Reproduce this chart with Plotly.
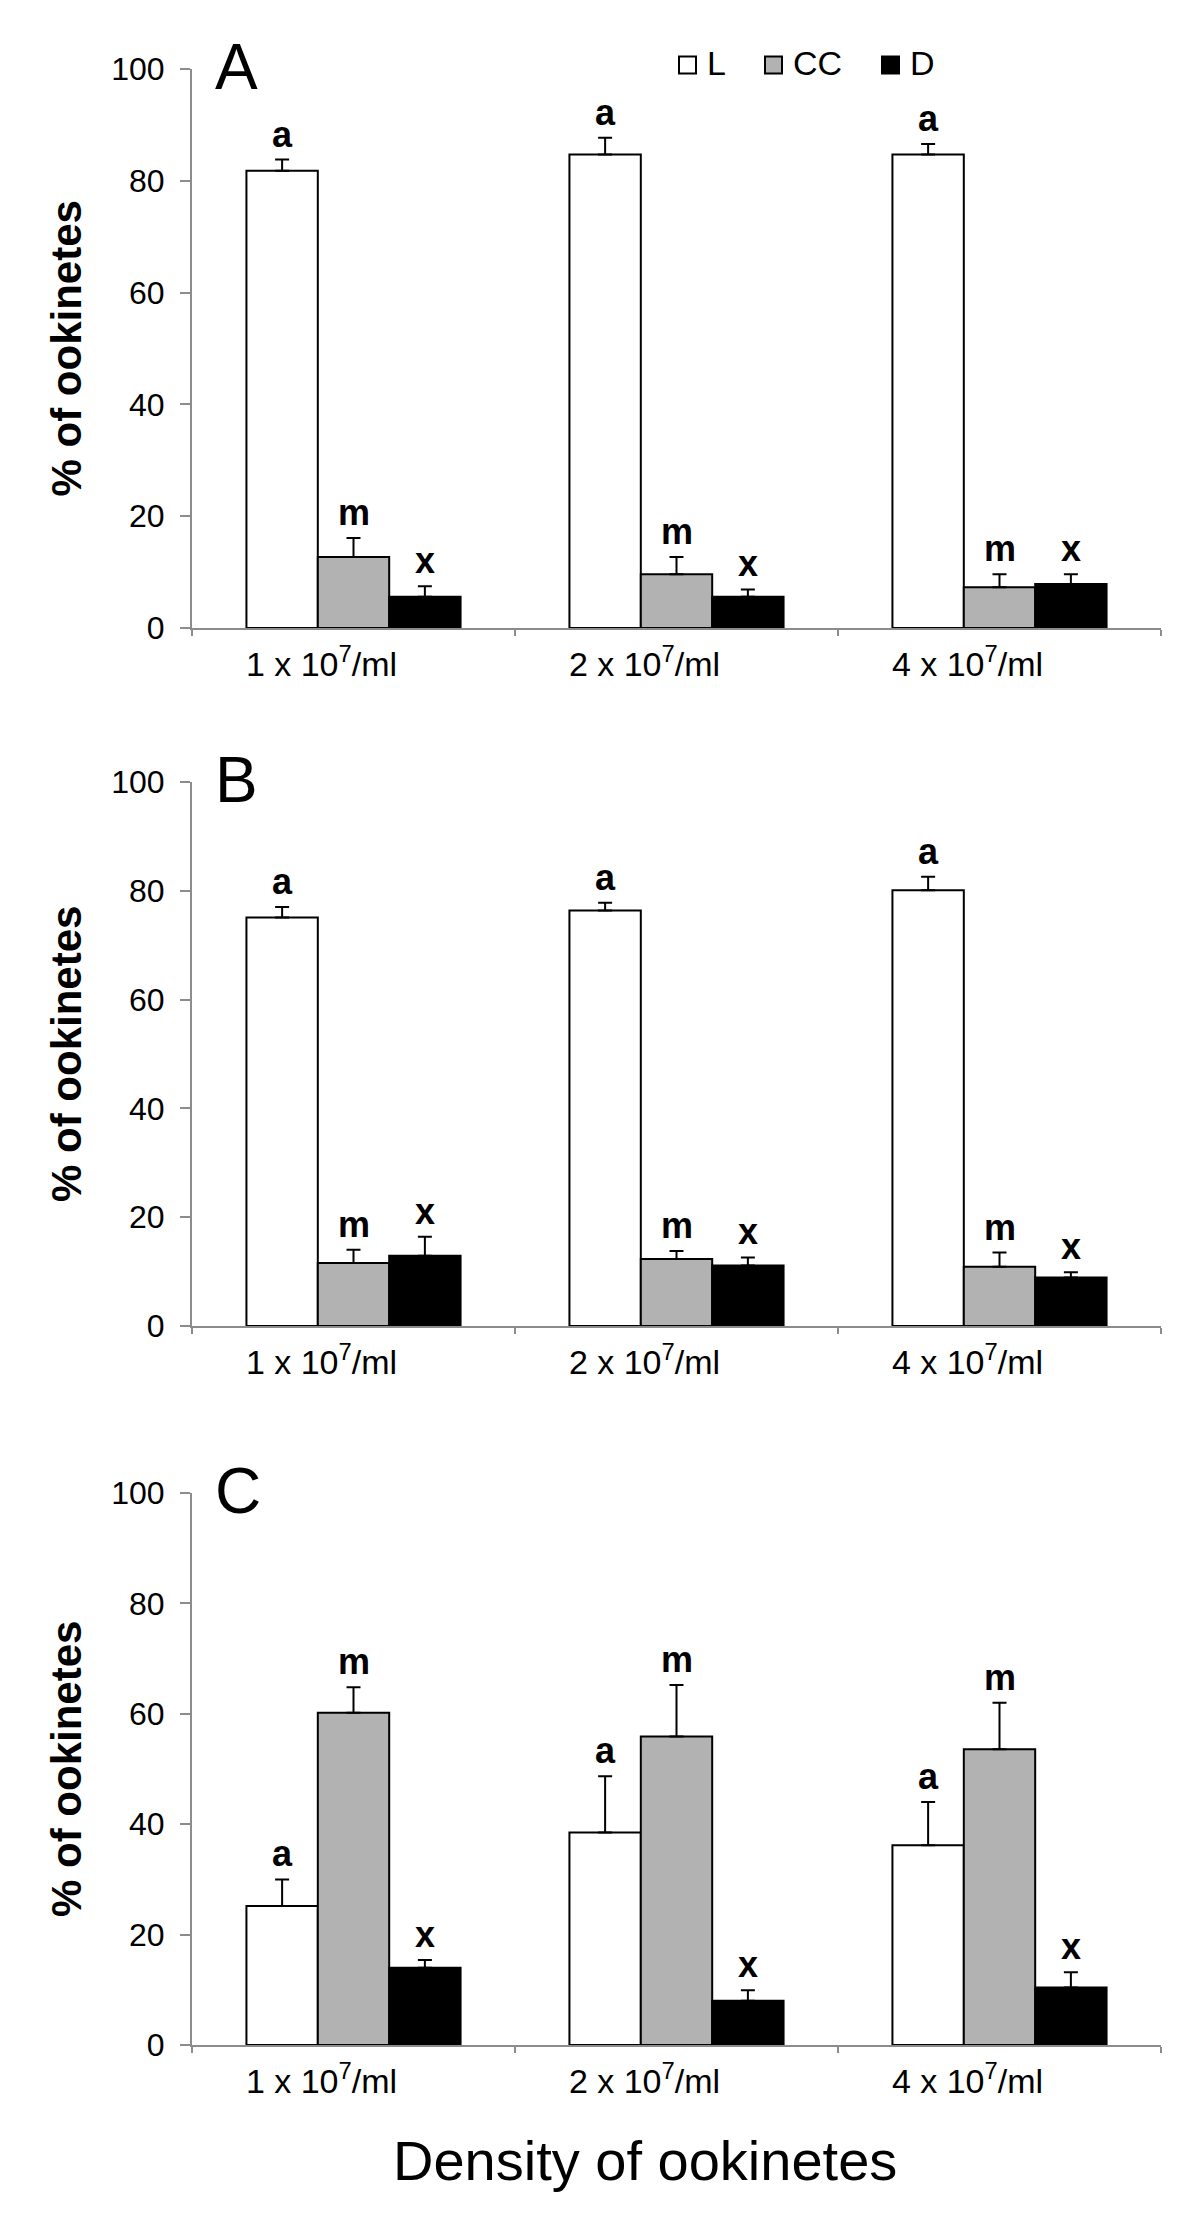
import plotly.graph_objects as go

categories = ["1 x 10<sup>7</sup>/ml", "2 x 10<sup>7</sup>/ml", "4 x 10<sup>7</sup>/ml"]
series_names = ["L", "CC", "D"]
series_colors = ["#ffffff", "#b2b2b2", "#000000"]
series_letters = ["a", "m", "x"]
panel_labels = ["A", "B", "C"]

# Panel A
A_L = [81.8, 84.7, 84.7]
A_L_err = [2.0, 3.0, 1.9]
A_CC = [12.7, 9.6, 7.3]
A_CC_err = [3.4, 3.1, 2.3]
A_D = [5.6, 5.6, 7.85]
A_D_err = [1.85, 1.3, 1.75]

# Panel B
B_L = [75.1, 76.4, 80.1]
B_L_err = [1.9, 1.4, 2.5]
B_CC = [11.6, 12.3, 10.9]
B_CC_err = [2.4, 1.5, 2.6]
B_D = [12.9, 11.1, 8.9]
B_D_err = [3.5, 1.5, 1.0]

# Panel C
C_L = [25.2, 38.5, 36.2]
C_L_err = [4.8, 10.2, 7.8]
C_CC = [60.2, 55.9, 53.6]
C_CC_err = [4.6, 9.3, 8.4]
C_D = [14.0, 8.0, 10.4]
C_D_err = [1.4, 1.9, 2.8]

y_ticks = [0, 20, 40, 60, 80, 100]

panels = [
    ([A_L, A_CC, A_D], [A_L_err, A_CC_err, A_D_err]),
    ([B_L, B_CC, B_D], [B_L_err, B_CC_err, B_D_err]),
    ([C_L, C_CC, C_D], [C_L_err, C_CC_err, C_D_err]),
]

# The page body has an 8px margin: layout is expressed in screen pixels
OFF = 8
W, H = 1184, 2198
PLOT_L, PLOT_R = 192, 1161          # screen px of the x-axis extent
ML = PLOT_L - OFF
PW = PLOT_R - PLOT_L
MR = W - ML - PW
# screen pixel of top (100) and bottom (0) for each panel
panel_px = [(69, 628), (782, 1326), (1493, 2045)]
FONT = "Liberation Sans, Arial, Helvetica, sans-serif"
AXIS_GREY = "#8c8c8c"
BARGAP = 0.337


def px_x(sx):
    return (sx - PLOT_L) / PW


def px_y(sy):
    return 1 - (sy - OFF) / H


fig = go.Figure()
annotations = []
shapes = []
layout_axes = {}

for p, (vals, errs) in enumerate(panels):
    suffix = "" if p == 0 else str(p + 1)
    xref = "x" + suffix
    yref = "y" + suffix
    for s in range(3):
        fig.add_trace(go.Bar(
            x=categories, y=vals[s], name=series_names[s],
            xaxis=xref, yaxis=yref,
            marker=dict(color=series_colors[s], line=dict(color="black", width=2)),
            error_y=dict(type="data", array=errs[s], arrayminus=[0] * len(errs[s]),
                         symmetric=False, color="black", thickness=2, width=7),
            showlegend=False,
        ))
        bar_w = (1 - BARGAP) / 3
        for i in range(len(categories)):
            annotations.append(dict(
                x=i + (s - 1) * bar_w, y=vals[s][i] + errs[s][i],
                xref=xref, yref=yref, text="<b>" + series_letters[s] + "</b>",
                showarrow=False, yanchor="bottom", yshift=3,
                font=dict(family=FONT, size=36, color="black"),
            ))
    top, bot = panel_px[p]
    dom = [px_y(bot), px_y(top)]
    layout_axes["xaxis" + suffix] = dict(
        domain=[0, 1], anchor=yref, type="category", automargin=False,
        showline=True, linecolor=AXIS_GREY, linewidth=2,
        ticks="outside", tickson="boundaries", ticklen=6, tickwidth=2, tickcolor=AXIS_GREY,
        tickfont=dict(family=FONT, size=34, color="black"),
        ticklabelshift=-32, ticklabelstandoff=5,
        showgrid=False, zeroline=False, fixedrange=True,
    )
    layout_axes["yaxis" + suffix] = dict(
        domain=dom, anchor=xref, range=[0, 100], tickvals=y_ticks, automargin=False,
        showline=True, linecolor=AXIS_GREY, linewidth=2,
        ticks="outside", ticklen=10, tickwidth=2, tickcolor=AXIS_GREY,
        tickfont=dict(family=FONT, size=32, color="black"),
        ticklabelstandoff=9,
        showgrid=False, zeroline=False, fixedrange=True,
    )
    # panel letter
    annotations.append(dict(
        x=0.0213, y=1, xref=xref + " domain", yref=yref + " domain",
        text=panel_labels[p], showarrow=False, xanchor="left", yanchor="middle",
        yshift=2, font=dict(family=FONT, size=64, color="black"),
    ))
    # y axis title
    annotations.append(dict(
        x=px_x(66), y=0.5, xref="paper", yref=yref + " domain",
        text="<b>% of ookinetes</b>", textangle=-90, showarrow=False,
        xanchor="center", yanchor="middle",
        font=dict(family=FONT, size=42, color="black"),
    ))

annotations.append(dict(
    x=px_x(645), y=px_y(2160), xref="paper", yref="paper",
    text="Density of ookinetes", showarrow=False, xanchor="center", yanchor="middle",
    font=dict(family=FONT, size=56, color="black"),
))

# legend (drawn in panel A, top), screen px
legend_box_left = [679, 765, 882]
legend_text_left = [705, 791, 908]
LEG_Y = 65
BOX = 17
for s in range(3):
    x0 = legend_box_left[s]
    shapes.append(dict(
        type="rect", xref="paper", yref="paper",
        x0=px_x(x0), x1=px_x(x0 + BOX), y0=px_y(LEG_Y + BOX / 2), y1=px_y(LEG_Y - BOX / 2),
        fillcolor=series_colors[s], line=dict(color="black", width=2), layer="above",
    ))
    annotations.append(dict(
        x=px_x(legend_text_left[s]), y=px_y(LEG_Y - 2), xref="paper", yref="paper",
        text=series_names[s], showarrow=False, xanchor="left", yanchor="middle",
        font=dict(family=FONT, size=34, color="black"),
    ))

fig.update_layout(
    width=W, height=H,
    margin=dict(l=ML, r=MR, t=0, b=0, autoexpand=False),
    paper_bgcolor="white", plot_bgcolor="white",
    barmode="group", bargap=BARGAP, bargroupgap=0,
    font=dict(family=FONT, color="black"),
    showlegend=False,
    annotations=annotations,
    shapes=shapes,
    **layout_axes,
)

fig.write_html("out.html")
